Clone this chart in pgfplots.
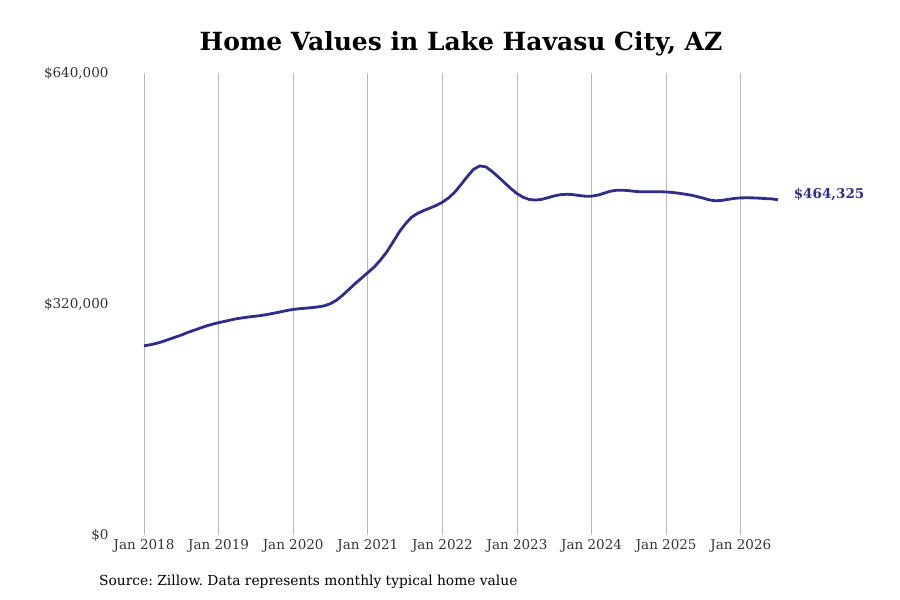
\documentclass[border=0pt]{standalone}
\usepackage{pgfplots}
\pgfplotsset{compat=1.18}
\usepackage{pgfplotstable}
\usepackage{fontspec}
\setmainfont{DejaVu Serif}
\frenchspacing
\definecolor{navy}{RGB}{46,46,138}
\pgfplotstableread{
m v
0 262100
1 263500
2 265500
3 268000
4 271000
5 274000
6 277000
7 280500
8 283500
9 286500
10 289500
11 292000
12 294200
13 296000
14 298000
15 299800
16 301000
17 302200
18 303200
19 304300
20 305800
21 307400
22 309200
23 311000
24 312500
25 313500
26 314200
27 315000
28 316000
29 317500
30 320500
31 325500
32 332500
33 340500
34 348500
35 356000
36 363500
37 371000
38 380500
39 391500
40 405000
41 419000
42 430500
43 440000
44 445500
45 449500
46 453000
47 456500
48 461000
49 467000
50 475000
51 485500
52 496500
53 506500
54 511300
55 510000
56 503500
57 496000
58 488000
59 480000
60 473000
61 467800
62 464800
63 464000
64 465000
65 467300
66 469800
67 471500
68 472000
69 471500
70 470300
71 469300
72 469400
73 470800
74 473500
75 476200
76 477600
77 477700
78 477000
79 476000
80 475400
81 475400
82 475600
83 475500
84 475200
85 474500
86 473500
87 472200
88 470800
89 468800
90 466500
91 464000
92 463000
93 463600
94 465000
95 466300
96 467000
97 467100
98 467000
99 466600
100 466000
101 465600
102 464325
}\datatable
\begin{document}
\begin{tikzpicture}[x=1pt,y=1pt]
\path[use as bounding box] (0,0) rectangle (900,600);
\begin{axis}[
  at={(144pt,65pt)}, anchor=south west,
  scale only axis, width=634.1pt, height=462pt,
  xmin=0, xmax=102, ymin=0, ymax=640000,
  axis line style={draw=none},
  major tick length=0pt,
  scaled y ticks=false,
  xtick={0,12,24,36,48,60,72,84,96},
  xticklabels={Jan 2018,Jan 2019,Jan 2020,Jan 2021,Jan 2022,Jan 2023,Jan 2024,Jan 2025,Jan 2026},
  ytick={0,320000,640000},
  yticklabels={\$0,\$320{,}000,\$640{,}000},
  xmajorgrids, grid style={gray!55, line width=0.8pt},
  ticklabel style={font=\fontsize{13.5}{16}\selectfont, text=black!80},
  yticklabel style={anchor=east, xshift=-32pt},
  xticklabel style={yshift=-1pt},
  clip=false,
]
\addplot[navy, line width=2.8pt, line join=round] table[x=m,y=v]{\datatable}
  node[pos=1, anchor=west, xshift=11pt, yshift=5pt, font=\fontsize{13.5}{16}\selectfont\bfseries, text=navy]{\$464,325};
\end{axis}
\node[font=\fontsize{25}{30}\selectfont\bfseries] at (461,556) {Home Values in Lake Havasu City, AZ};
\node[anchor=west, font=\fontsize{13.8}{16}\selectfont, inner sep=0pt] at (99,18) {Source: Zillow. Data represents monthly typical home value};
\end{tikzpicture}
\end{document}
